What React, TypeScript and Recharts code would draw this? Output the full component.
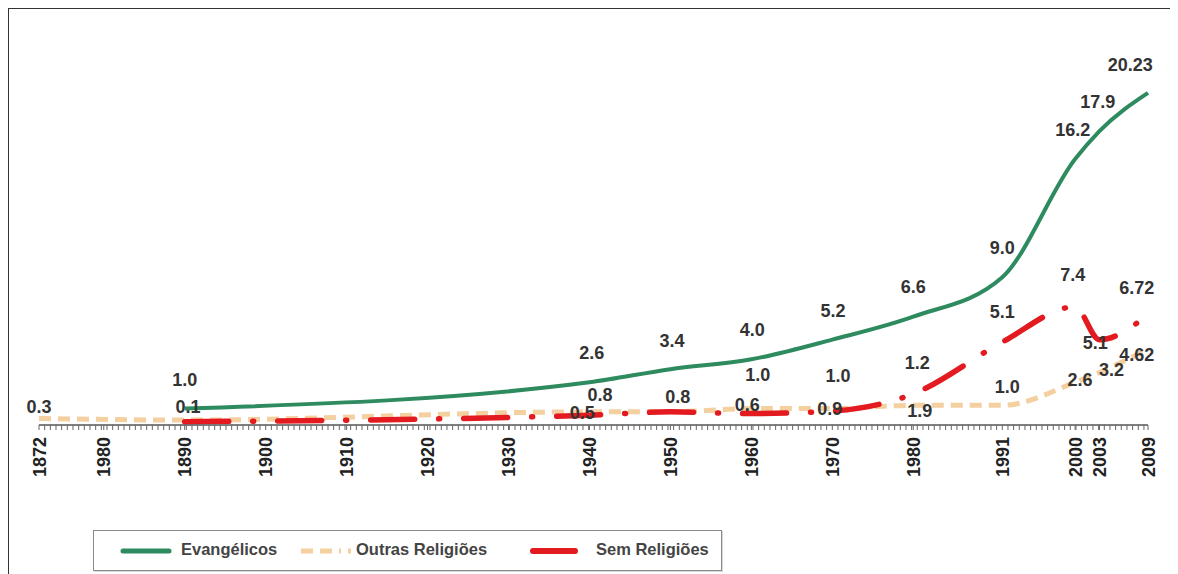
import React from 'react';
import { ComposedChart, Line, XAxis, YAxis, Scatter } from 'recharts';

// ---- data ----
const years = [1872, 1890, 1940, 1950, 1960, 1970, 1980, 1991, 2000, 2003, 2009];
const evangelicos = [null, 1.0, 2.6, 3.4, 4.0, 5.2, 6.6, 9.0, 16.2, 17.9, 20.23];
const outrasReligioes = [0.4, 0.3, 0.8, 0.8, 1.0, 1.0, 1.2, 1.2, 2.6, 3.2, 4.62];
const semReligioes = [null, 0.2, 0.6, 0.8, 0.7, 0.85, 1.9, 5.05, 7.2, 5.2, 6.72];

// axis tick years and their printed labels (as in the original, incl. "1980" for 1880)
const majorTicks = [1872, 1880, 1890, 1900, 1910, 1920, 1930, 1940, 1950, 1960, 1970, 1980, 1991, 2000, 2003, 2009];
const tickLabels = ['1872', '1980', '1890', '1900', '1910', '1920', '1930', '1940', '1950', '1960', '1970', '1980', '1991', '2000', '2003', '2009'];

// printed value labels: text, year and level where each one sits
const labelTexts = ['0.3', '1.0', '0.1', '2.6', '0.8', '0.5', '3.4', '0.8', '4.0', '1.0', '0.6', '5.2', '1.0', '0.9', '6.6', '1.2', '1.9', '9.0', '5.1', '1.0', '7.4', '16.2', '17.9', '20.23', '6.72', '5.1', '4.62', '3.2', '2.6'];
const labelYears = [1872, 1890, 1890.4, 1940.3, 1941.3, 1939.1, 1950.2, 1950.9, 1960.1, 1960.8, 1959.5, 1970.1, 1970.7, 1969.7, 1980, 1980.5, 1980.8, 1991, 1991, 1991.6, 1999.7, 1999.7, 2002.8, 2006.8, 2007.6, 2002.5, 2007.6, 2004.5, 2000.6];
const labelLevels = [1.1, 2.74, 1.1, 4.39, 1.83, 0.73, 5.12, 1.71, 5.79, 3.05, 1.22, 6.95, 2.99, 0.98, 8.41, 3.78, 0.91, 10.79, 6.89, 2.32, 9.14, 17.98, 19.68, 21.94, 8.35, 5.0, 4.27, 3.35, 2.74];

const minorStep = 0.7;
const minorTicks: number[] = [];
for (let t = 1872; t <= 2009.001; t += minorStep) minorTicks.push(Math.round(t * 100) / 100);
const allTicks = Array.from(new Set([...minorTicks, ...majorTicks])).sort((a, b) => a - b);

const chartData = years.map((year, i) => ({
  year,
  ev: evangelicos[i],
  ou: outrasReligioes[i],
  sr: semReligioes[i],
}));

const annotations = labelTexts.map((text, i) => ({ year: labelYears[i], level: labelLevels[i], text }));

const FONT = '"Liberation Sans", Arial, Helvetica, sans-serif';

const GREEN = '#2e8a5f';
const BEIGE = '#f4cf9f';
const RED = '#e31a1f';

const AxisTick = (props: any) => {
  const { x, y, payload } = props;
  const i = majorTicks.indexOf(payload.value);
  if (i < 0) return <g />;
  const bx = x + 6.5;
  const by = y + 5;
  return (
    <text
      x={bx}
      y={by}
      transform={`rotate(-90 ${bx} ${by})`}
      textAnchor="end"
      fontSize={18}
      fontWeight="bold"
      fill="#222"
      fontFamily={FONT}
    >
      {tickLabels[i]}
    </text>
  );
};

const LabelShape = (props: any) => {
  const { cx, cy, payload } = props;
  return (
    <text
      x={cx}
      y={cy}
      dy="0.36em"
      textAnchor="middle"
      fontSize={18}
      fontWeight="bold"
      fill="#333"
      fontFamily={FONT}
    >
      {payload.text}
    </text>
  );
};

const LegendBox = () => (
  <div
    style={{
      position: 'absolute',
      left: 84,
      top: 521,
      width: 627,
      height: 39,
      border: '1px solid #8a8a8a',
      boxShadow: '1px 1px 0 #d8d8d8',
      background: '#fff',
      fontFamily: FONT,
      fontSize: 16.5,
      fontWeight: 'bold',
      color: '#444',
    }}
  >
    <svg width={627} height={39} style={{ position: 'absolute', left: 0, top: 0 }}>
      <line x1={29} y1={20} x2={75} y2={20} stroke={GREEN} strokeWidth={5} strokeLinecap="round" />
      <line x1={207} y1={20} x2={257} y2={20} stroke={BEIGE} strokeWidth={5} strokeDasharray="12 7 12 7 2 7" />
      <line x1={439} y1={20} x2={481} y2={20} stroke={RED} strokeWidth={6} strokeLinecap="round" />
    </svg>
    <span style={{ position: 'absolute', left: 87, top: 9 }}>Evangélicos</span>
    <span style={{ position: 'absolute', left: 262, top: 9 }}>Outras Religiões</span>
    <span style={{ position: 'absolute', left: 502, top: 9 }}>Sem Religiões</span>
  </div>
);

export default function App() {
  return (
    <div
      style={{
        position: 'relative',
        width: 1163,
        height: 565,
        marginLeft: -1,
        marginTop: -1,
        borderTop: '2px solid #333',
        borderLeft: '2px solid #333',
        borderRight: '1px solid #cfcfcf',
        background: '#fff',
      }}
    >
      <ComposedChart
        width={1163}
        height={565}
        data={chartData}
        margin={{ top: 22, right: 24, left: 30, bottom: 99 }}
      >
        <XAxis
          dataKey="year"
          type="number"
          domain={[1872, 2009]}
          ticks={allTicks}
          interval={0}
          tick={<AxisTick />}
          tickSize={5}
          height={50}
          stroke="#555"
          tickLine={{ stroke: '#666', strokeWidth: 1 }}
          axisLine={{ stroke: '#555', strokeWidth: 1.5 }}
        />
        <YAxis hide type="number" dataKey="level" domain={[0, 24]} />
        <Line
          type="monotone"
          dataKey="ou"
          stroke={BEIGE}
          strokeWidth={5}
          strokeDasharray="12 7"
          dot={false}
          activeDot={false}
          isAnimationActive={false}
        />
        <Line
          type="monotone"
          dataKey="sr"
          stroke={RED}
          strokeWidth={5.5}
          strokeDasharray="44 24 1 24"
          strokeLinecap="round"
          dot={false}
          activeDot={false}
          isAnimationActive={false}
        />
        <Line
          type="monotone"
          dataKey="ev"
          stroke={GREEN}
          strokeWidth={4}
          dot={false}
          activeDot={false}
          isAnimationActive={false}
        />
        <Scatter data={annotations} shape={<LabelShape />} isAnimationActive={false} />
      </ComposedChart>
      <LegendBox />
    </div>
  );
}
